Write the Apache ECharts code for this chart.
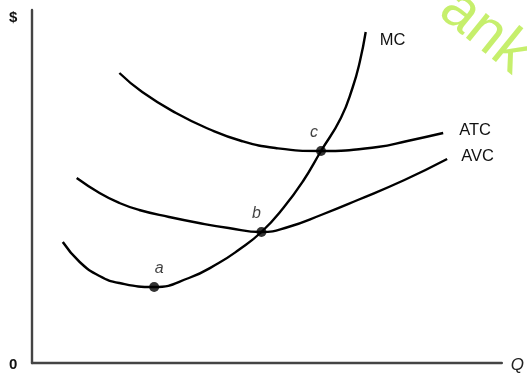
<!DOCTYPE html>
<html><head><meta charset="utf-8">
<script src="https://cdn.jsdelivr.net/npm/echarts@6/dist/echarts.min.js"></script>
<style>html,body{margin:0;padding:0;background:#fff}#c{width:527px;height:375px}</style>
</head><body><div id="c"></div>
<script>
// Quantity (x) and cost (y) in arbitrary chart units
const mcQ  = [31,48,68,88,123,158,188,208,231,253,273,291,311,323,330,336];
const mcC  = [121,101,87,80,76,85,100,113,131,155,182,212,245,276,301,331];
const atcQ = [88,111,145,178,211,245,291,348,378,414];
const atcC = [290,271,250,234,222,215,212,216,222,230];
const avcQ = [45,68,88,108,138,168,198,231,258,291,328,375,418];
const avcC = [185,170,160,153,146,140,135,131,136,148,163,183,204];
const pointNames = ['a','b','c'];
const pointQ = [123,231,291];
const pointC = [76,131,212];
const curveNames = ['MC','ATC','AVC'];

const zip = (xs, ys) => xs.map((x,i)=>[x, ys[i]]);
const font = '"Liberation Sans", Arial, sans-serif';

const lineSeries = (name, data, offset) => ({
  type:'line', name, data, smooth:0.5, symbol:'none',
  lineStyle:{color:'#000', width:2.4},
  endLabel:{show:true, formatter:name, color:'#111', fontFamily:font, fontSize:16.5, offset},
  silent:true, animation:false
});

const labelOffsets = [[5,0],[-5,0],[-7,0]];

const chart = echarts.init(document.getElementById('c'));
chart.setOption({
  animation:false,
  grid:{left:32, top:10, right:22, bottom:12},
  xAxis:{type:'value', min:0, max:473, axisLabel:{show:false}, axisTick:{show:false}, splitLine:{show:false},
    axisLine:{lineStyle:{color:'#444', width:2.4}},
    name:'Q', nameLocation:'end', nameGap:9,
    nameTextStyle:{fontFamily:font, fontStyle:'italic', fontSize:17, color:'#222', verticalAlign:'top', padding:[-6,0,0,0]}},
  yAxis:{type:'value', min:0, max:353, axisLabel:{show:false}, axisTick:{show:false}, splitLine:{show:false},
    axisLine:{lineStyle:{color:'#444', width:2.4}}},
  graphic:[
    {type:'text', left:9, top:10, style:{text:'$', font:'bold 15px '+font, fill:'#111'}},
    {type:'text', left:9, top:357, style:{text:'0', font:'bold 15px '+font, fill:'#111'}},
    {type:'text', x:466, y:-22, rotation:-0.68, style:{text:'ank', font:'60px '+font, fill:'#c6ef6c'}}
  ],
  series:[
    lineSeries(curveNames[0], zip(mcQ, mcC), [6, 8]),
    lineSeries(curveNames[1], zip(atcQ, atcC), [8, -3]),
    lineSeries(curveNames[2], zip(avcQ, avcC), [6, -3]),
    {type:'scatter',
      data:pointQ.map((q,i)=>({value:[q, pointC[i]], name:pointNames[i], label:{offset:labelOffsets[i]}})),
      symbolSize:10, itemStyle:{color:'#000'},
      label:{show:true, formatter:p=>p.name, position:'top', distance:5, fontFamily:font, fontStyle:'italic', fontSize:16, color:'#111'},
      silent:true}
  ]
});
</script></body></html>
